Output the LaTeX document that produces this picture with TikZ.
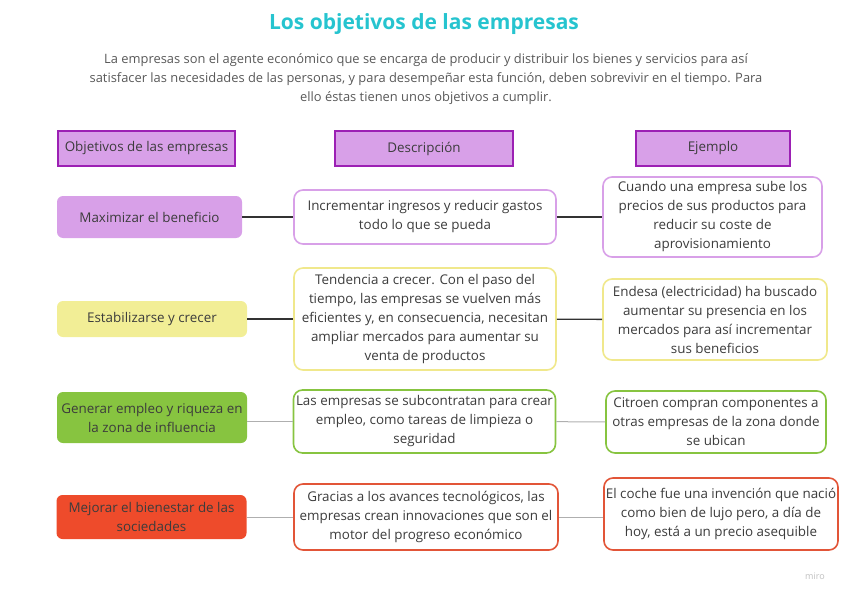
\documentclass[tikz,border=0pt]{standalone}
\usepackage{fontspec}
\setmainfont{Open Sans}
\usetikzlibrary{positioning}
\definecolor{cTitle}{RGB}{38,196,207}
\definecolor{cText}{RGB}{60,60,60}
\definecolor{cLilac}{RGB}{216,160,232}
\definecolor{cPurple}{RGB}{156,32,180}
\definecolor{cYellow}{RGB}{242,238,150}
\definecolor{cYellowLine}{RGB}{240,232,140}
\definecolor{cGreen}{RGB}{135,196,64}
\definecolor{cRed}{RGB}{238,75,43}
\definecolor{cRedLine}{RGB}{226,85,56}
\definecolor{cDark}{RGB}{50,50,50}
\definecolor{cSoft}{RGB}{175,175,175}

\begin{document}
\begin{tikzpicture}[
    x=1pt, y=-1pt,
    font=\fontsize{13.4}{19}\selectfont, text=cText,
    hd/.style={rectangle, draw=cPurple, line width=2.4pt, fill=cLilac,
               minimum height=35pt, align=center},
    goal/.style={rectangle, rounded corners=6pt, align=center,
                 minimum width=190pt, inner sep=1pt},
    info/.style={rectangle, rounded corners=9pt, line width=1.6pt, fill=white,
                 align=center, inner sep=1pt},
    link/.style={cDark, line width=1.4pt},
    soft/.style={cSoft, line width=1pt},
  ]
  \useasboundingbox (0,0) rectangle (848,599);
  \node[font=\fontsize{21}{24}\selectfont\bfseries, text=cTitle] (title) at (424,24) {Los objetivos de las empresas};
  \node[align=center, font=\fontsize{12.9}{19}\selectfont, text=cText!85] (intro) at (426,79)
    {La empresas son el agente económico que se encarga de producir y distribuir los bienes y servicios para así\\
     satisfacer las necesidades de las personas, y para desempeñar esta función, deben sobrevivir en el tiempo. Para\\
     ello éstas tienen unos objetivos a cumplir.};

  % cabeceras
  \node[hd, minimum width=177pt] (hObj)  at (146.5,148.5) {Objetivos de las empresas};
  \node[hd, minimum width=178pt] (hDesc) at (424,148.5)   {Descripción};
  \node[hd, minimum width=154pt] (hEx)   at (713,148.5)   {Ejemplo};

  % fila 1
  \node[goal, fill=cLilac, minimum width=185pt, minimum height=42pt] (obj1) at (149.5,217) {Maximizar el beneficio};
  \node[info, draw=cLilac, minimum width=262pt, minimum height=54pt] (desc1) at (425,217)
    {Incrementar ingresos y reducir gastos\\ todo lo que se pueda};
  \node[info, draw=cLilac, minimum width=219pt, minimum height=80pt] (ex1) at (712.5,217)
    {Cuando una empresa sube los\\ precios de sus productos para\\ reducir su coste de\\ aprovisionamiento};

  % fila 2
  \node[goal, fill=cYellow, minimum height=36pt] (obj2) at (152,319) {Estabilizarse y crecer};
  \node[info, draw=cYellowLine, minimum width=262pt, minimum height=102pt] (desc2) at (425,319)
    {Tendencia a crecer. Con el paso del\\ tiempo, las empresas se vuelven más\\ eficientes y, en consecuencia, necesitan\\ ampliar mercados para aumentar su\\ venta de productos};
  \node[info, draw=cYellowLine, minimum width=224pt, minimum height=81pt] (ex2) at (715,319.5)
    {Endesa (electricidad) ha buscado\\ aumentar su presencia en los\\ mercados para así incrementar\\ sus beneficios};

  % fila 3
  \node[goal, fill=cGreen, minimum height=51pt] (obj3) at (152,417.5) {Generar empleo y riqueza en\\ la zona de influencia};
  \node[info, draw=cGreen, minimum width=262pt, minimum height=63pt] (desc3) at (424.5,421.5)
    {Las empresas se subcontratan para crear\\ empleo, como tareas de limpieza o\\ seguridad};
  \node[info, draw=cGreen, minimum width=220pt, minimum height=62pt] (ex3) at (716,422)
    {Citroen compran componentes a\\ otras empresas de la zona donde\\ se ubican};

  % fila 4
  \node[goal, fill=cRed, minimum height=44pt] (obj4) at (151.5,517) {Mejorar el bienestar de las\\ sociedades};
  \node[info, draw=cRedLine, minimum width=264pt, minimum height=66pt] (desc4) at (426,517)
    {Gracias a los avances tecnológicos, las\\ empresas crean innovaciones que son el\\ motor del progreso económico};
  \node[info, draw=cRedLine, minimum width=234pt, minimum height=72pt] (ex4) at (721,514)
    {El coche fue una invención que nació\\ como bien de lujo pero, a día de\\ hoy, está a un precio asequible};

  \draw[link] (obj1) -- (desc1);
  \draw[link] (desc1) -- (ex1);
  \draw[link] (obj2) -- (desc2);
  \draw[link] (desc2) -- (ex2);
  \draw[soft] (desc3.west -| obj3.east) -- (desc3.west);
  \draw[soft] (desc3) -- (ex3);
  \draw[soft] (obj4) -- (desc4);
  \draw[soft] (desc4.east) -- (desc4.east -| ex4.west);

  \node[font=\fontsize{9}{10}\selectfont, text=black!25] (miro) at (815,576) {miro};
\end{tikzpicture}
\end{document}
